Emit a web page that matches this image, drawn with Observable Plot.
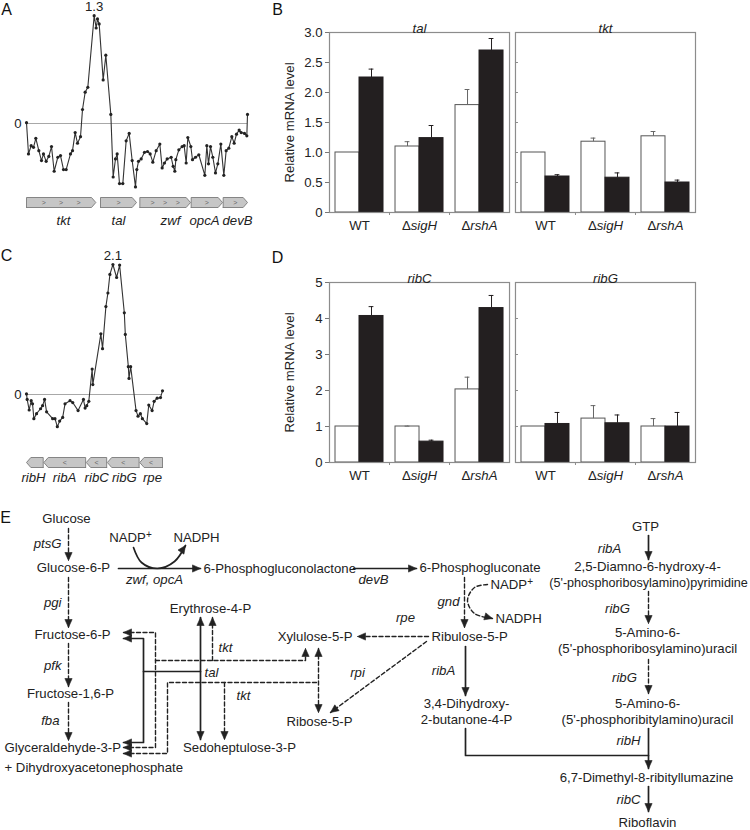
<!DOCTYPE html>
<html><head><meta charset="utf-8">
<script src="https://cdn.jsdelivr.net/npm/d3@7"></script>
<script src="https://cdn.jsdelivr.net/npm/@observablehq/plot@0.6"></script>
<style>
body{margin:0;background:#fff;}
#fig{position:relative;width:750px;height:830px;font-family:"Liberation Sans",Arial,sans-serif;}
#fig > div{position:absolute;left:0;top:0;}
</style></head><body><div id="fig"></div>
<script>
// ---------- Panel A: tiling-array profile (tkt-tal-zwf-opcA-devB) ----------
const profAx = [0,0.06,0.14,0.21,0.28,0.37,0.45,0.51,0.59,0.67,0.75,0.83,0.94,1.02,1.11,1.19,1.32,1.38,1.46,1.53,1.62,1.68,1.76,1.84,2.03,2.09,2.13,2.18,2.30,2.38,2.53,2.60,2.67,2.72,2.79,2.89,2.99,3.08,3.17,3.27,3.31,3.36,3.44,3.54,3.63,3.71,3.79,3.89,4.00,4.07,4.14,4.22,4.34,4.40,4.45,4.48,4.57,4.67,4.73,4.79,4.84,4.93,4.98,5.07,5.17,5.35,5.41,5.46,5.52,5.59,5.67,5.74,5.83,5.92,5.99,6.07,6.16,6.23,6.30,6.38,6.44,6.54,6.61,6.63];
const profAy = [0.01,-0.37,-0.27,-0.29,-0.18,-0.33,-0.45,-0.37,-0.46,-0.40,-0.28,-0.58,-0.41,-0.39,-0.56,-0.56,-0.37,-0.33,-0.11,-0.24,-0.16,0.17,0.38,0.44,1.31,1.16,1.27,1.21,0.53,0.83,0.11,-0.65,-0.43,-0.37,-0.73,-0.73,-0.21,-0.12,-0.45,-0.77,-0.56,-0.46,-0.43,-0.35,-0.34,-0.37,-0.47,-0.33,-0.25,-0.54,-0.48,-0.43,-0.41,-0.52,-0.58,-0.44,-0.32,-0.28,-0.27,-0.48,-0.17,-0.28,-0.44,-0.41,-0.38,-0.63,-0.27,-0.49,-0.28,-0.41,-0.60,-0.49,-0.25,-0.63,-0.33,-0.30,-0.16,-0.24,-0.13,-0.08,-0.11,-0.12,-0.15,0.11];
const genesA = ["tkt","tal","zwf","opcA","devB"];
const genesAStart = [0,2.22,3.40,4.94,5.90];
const genesAEnd = [2.08,3.30,4.92,5.88,6.63];
const genesAChevrons = [3,1,3,1,1];
const genesALabelX = [1.11,2.76,4.32,5.34,6.33];

// ---------- Panel C: tiling-array profile (ribH-ribA-ribC-ribG-rpe) ----------
const profCx = [0,0.02,0.08,0.14,0.18,0.22,0.30,0.42,0.48,0.54,0.60,0.78,0.85,0.92,0.99,1.08,1.15,1.30,1.38,1.54,1.70,1.75,1.80,1.86,1.96,1.98,2.22,2.27,2.37,2.43,2.49,2.58,2.69,2.78,2.92,2.95,3.04,3.06,3.11,3.27,3.33,3.40,3.46,3.59,3.65,3.75,3.81,3.90,4.00,4.06];
const profCy = [0.01,-0.08,-0.25,-0.10,-0.15,-0.39,-0.31,-0.23,-0.18,-0.08,-0.28,-0.39,-0.39,-0.52,-0.43,-0.37,-0.15,-0.10,-0.13,-0.26,-0.08,-0.22,-0.18,-0.11,0.41,0.16,0.98,0.74,1.42,1.64,1.94,2.10,1.89,2.09,1.32,0.97,0.45,0.26,0.45,-0.26,-0.35,-0.31,-0.39,-0.47,-0.17,-0.26,-0.11,-0.06,-0.05,0.06];
const genesC = ["ribH","ribA","ribC","ribG","rpe"];
const genesCStart = [0,0.52,1.79,2.42,3.39];
const genesCEnd = [0.50,1.77,2.40,3.37,4.07];
const genesCChevrons = [0,1,1,1,1];
const genesCLabelX = [0.21,1.14,2.10,2.93,3.77];

// ---------- Panels B and D: relative mRNA levels ----------
const strains = ["WT","\u0394sigH","\u0394rshA"];
const talWhite = [1.00,1.10,1.79], talWhiteErr = [null,1.18,2.05];
const talBlack = [2.25,1.24,2.70], talBlackErr = [2.39,1.45,2.90];
const tktWhite = [1.00,1.18,1.27], tktWhiteErr = [null,1.24,1.35];
const tktBlack = [0.60,0.58,0.50], tktBlackErr = [0.63,0.66,0.54];
const ribCWhite = [1.00,1.00,2.03], ribCWhiteErr = [null,1.01,2.37];
const ribCBlack = [4.07,0.58,4.29], ribCBlackErr = [4.33,0.62,4.64];
const ribGWhite = [1.00,1.22,1.00], ribGWhiteErr = [null,1.58,1.22];
const ribGBlack = [1.07,1.09,1.00], ribGBlackErr = [1.39,1.32,1.39];
const ticksB = [0,0.5,1,1.5,2,2.5,3];
const ticksD = [0,1,2,3,4,5];

// ---------- Panel E: pathway diagram ----------
const letters = ["A","B","C","D","E"];
const letterX = [6,277,6,277,5];
const letterY = [9,9,255,257,517];

const metabolites = [
  ["Glucose",66,518,"middle"],["Glucose-6-P",73,567,"middle"],["NADP\u207A",130,537,"middle"],["NADPH",196,537,"middle"],
  ["6-Phosphogluconolactone",203,568,"start"],["6-Phosphogluconate",419,567,"start"],
  ["NADP\u207A",490,584,"start"],["NADPH",495,618,"start"],
  ["Ribulose-5-P",431,636,"start"],["Xylulose-5-P",352,636,"end"],["Erythrose-4-P",210,608,"middle"],
  ["Fructose-6-P",72,634,"middle"],["Fructose-1,6-P",70,693,"middle"],["Glyceraldehyde-3-P",4,747,"start"],
  ["+ Dihydroxyacetonephosphate",4,767,"start"],["Sedoheptulose-3-P",239,747,"middle"],["Ribose-5-P",319,721,"middle"],
  ["3,4-Dihydroxy-",466,703,"middle"],["2-butanone-4-P",466,719,"middle"],
  ["GTP",645,526,"middle"],["2,5-Diamno-6-hydroxy-4-",647,566,"middle"],["(5'-phosphoribosylamino)pyrimidine",648,582,"middle"],
  ["5-Amino-6-",647,632,"middle"],["(5'-phosphoribosylamino)uracil",647,648,"middle"],
  ["5-Amino-6-",647,703,"middle"],["(5'-phosphoribitylamino)uracil",647,719,"middle"],
  ["6,7-Dimethyl-8-ribityllumazine",646,777,"middle"],["Riboflavin",647,822,"middle"]
];
const enzymes = [
  ["ptsG",61,543,"end"],["pgi",61,602,"end"],["pfk",61,665,"end"],["fba",59,720,"end"],
  ["zwf, opcA",154,579,"middle"],["devB",373,579,"middle"],["gnd",448,601,"middle"],["rpe",405,617,"middle"],
  ["rpi",357,672,"middle"],["ribA",443,670,"middle"],["tkt",225,647,"middle"],["tal",211,672,"middle"],["tkt",243,695,"middle"],
  ["ribA",609,548,"middle"],["ribG",617,608,"middle"],["ribG",624,677,"middle"],["ribH",628,740,"middle"],["ribC",628,799,"middle"]
];
const solidPaths = [
  {pts:[[118,568],[200,568]],head:"end"},
  {pts:[[353,568],[416,568]],head:"end"},
  {pts:[[123,638],[143,638],[143,742],[123,742]],head:"both"},
  {pts:[[143,671],[200,671]],head:"none"},
  {pts:[[200,617],[200,739]],head:"both"},
  {pts:[[465,646],[465,695]],head:"end"},
  {pts:[[648,535],[648,559]],head:"end"},
  {pts:[[465,728],[465,755],[648,755]],head:"none"},
  {pts:[[648,728],[648,768]],head:"end"},
  {pts:[[648,786],[648,811]],head:"end"}
];
const dashedPaths = [
  {pts:[[68,528],[68,560]],head:"end"},
  {pts:[[68,577],[68,627]],head:"end"},
  {pts:[[68,643],[68,686]],head:"end"},
  {pts:[[68,702],[68,740]],head:"end"},
  {pts:[[123,632],[155,632],[155,747],[123,747]],head:"both"},
  {pts:[[155,660],[305,660],[305,648]],head:"end"},
  {pts:[[212,660],[212,617]],head:"end"},
  {pts:[[123,753],[167,753],[167,682],[318,682]],head:"start"},
  {pts:[[224,682],[224,739]],head:"end"},
  {pts:[[318,648],[318,712]],head:"both"},
  {pts:[[464,577],[464,627]],head:"end"},
  {pts:[[428,636],[357,636]],head:"end"},
  {pts:[[426,641],[330,712]],head:"end"},
  {pts:[[648,591],[648,623]],head:"end"},
  {pts:[[648,659],[648,693]],head:"end"}
];
const solidCurves = [ {pts:[[133,547],[141,562],[157,568],[174,561],[185,545]],head:"end"} ];
const dashedCurves = [ {pts:[[487,584],[474,587],[467,600],[474,613],[492,618]],head:"end"} ];

// ---------- helpers ----------
const FONT = "'Liberation Sans', Arial, Helvetica, sans-serif";
const FS = 13.2;
const st = {background:"transparent", fontFamily: FONT, fontSize:FS+"px", color:"#222", overflow:"visible"};
const fig = document.getElementById("fig");
function place(node){ const d=document.createElement("div"); d.appendChild(node); fig.appendChild(d); return node; }

function genePolys(names, starts, ends, dir, tip){
  const out=[];
  names.forEach((g,i)=>{ const s=starts[i], e=ends[i];
    const pts = dir>0 ? [[s,0],[e-tip,0],[e,0.5],[e-tip,1],[s,1],[s,0]]
                      : [[e,0],[s+tip,0],[s,0.5],[s+tip,1],[e,1],[e,0]];
    pts.forEach(([x,y])=>out.push({g,x,y})); });
  return out;
}
function chevrons(names, starts, ends, counts){
  const out=[];
  names.forEach((g,i)=>{ const n=counts[i]; for(let k=1;k<=n;k++) out.push({g, x: starts[i]+(ends[i]-starts[i])*k/(n+1)}); });
  return out;
}
function flat(paths, prefix){ const out=[]; paths.forEach((p,k)=>p.pts.forEach(([x,y])=>out.push({id:prefix+k,x,y}))); return out; }
function heads(paths, prefix){
  const out=[];
  paths.forEach((p,k)=>{ const pts=p.pts;
    const add=(tip,from,id)=>{ const dx=tip[0]-from[0], dy=tip[1]-from[1], L=Math.hypot(dx,dy);
      const ux=dx/L, uy=dy/L, hl=8, hw=3.6, bx=tip[0]-ux*hl, by=tip[1]-uy*hl;
      out.push({id,x:tip[0],y:tip[1]},{id,x:bx-uy*hw,y:by+ux*hw},{id,x:bx+uy*hw,y:by-ux*hw},{id,x:tip[0],y:tip[1]}); };
    if(p.head==="end"||p.head==="both") add(pts[pts.length-1], pts[pts.length-2], prefix+k+"e");
    if(p.head==="start"||p.head==="both") add(pts[0], pts[1], prefix+k+"s");
  });
  return out;
}

// ---------- Panel E (page-sized, identity scales) ----------
const metaRows = metabolites.map(([t,x,y,a])=>({t,x,y,a,fs: t.length>30 ? 12.6 : FS}));
const enzRows = enzymes.map(([t,x,y,a])=>({t,x,y,a}));
const anchors = ["start","middle","end"];
const headRows = heads(solidPaths,"s").concat(heads(dashedPaths,"d"), heads(solidCurves,"c"), heads(dashedCurves,"k"));
const svgE = place(Plot.plot({
  width:750, height:830, margin:0, style: st,
  x:{domain:[0,750], range:[0,750], axis:null},
  y:{domain:[0,830], range:[0,830], axis:null},
  marks:[
    Plot.text(letters,{x:(d,i)=>letterX[i], y:(d,i)=>letterY[i], text:d=>d, fontSize:16, fill:"#111"}),
    Plot.line(flat(solidPaths,"s"),{x:"x",y:"y",z:"id",stroke:"#222",strokeWidth:1.7}),
    Plot.line(flat(dashedPaths,"d"),{x:"x",y:"y",z:"id",stroke:"#222",strokeWidth:1.4,strokeDasharray:"4,2.5"}),
    Plot.line(flat(solidCurves,"c"),{x:"x",y:"y",z:"id",stroke:"#222",strokeWidth:1.7,curve:"catmull-rom"}),
    Plot.line(flat(dashedCurves,"k"),{x:"x",y:"y",z:"id",stroke:"#222",strokeWidth:1.4,strokeDasharray:"4,2.5",curve:"catmull-rom"}),
    Plot.line(headRows,{x:"x",y:"y",z:"id",fill:"#222",stroke:"#222",strokeWidth:0.6}),
    ...anchors.map(a=>Plot.text(metaRows.filter(d=>d.a===a && d.fs===FS),{x:"x",y:"y",text:"t",textAnchor:a,fontSize:FS,fill:"#222"})),
    Plot.text(metaRows.filter(d=>d.fs!==FS),{x:"x",y:"y",text:"t",fontSize:12.6,fill:"#222"}),
    ...anchors.map(a=>Plot.text(enzRows.filter(d=>d.a===a),{x:"x",y:"y",text:"t",textAnchor:a,fontSize:FS,fontStyle:"italic",fill:"#222"}))
  ]
}));
// superscript plus for NADP+
svgE.querySelectorAll("text").forEach(t=>{
  const s=t.textContent;
  if(s.includes("\u207A") && t.children.length===0){
    t.textContent=s.replace("\u207A","");
    const ts=document.createElementNS("http://www.w3.org/2000/svg","tspan");
    ts.setAttribute("font-size","10"); ts.setAttribute("dy","-4"); ts.textContent="+"; t.appendChild(ts);
  }
});

// ---------- Panels A and C: profiles ----------
function profilePlot(xs, ys, xr, yr, height){
  const rows = xs.map((x,i)=>({x, y: ys[i]}));
  const xmax = xs[xs.length-1];
  return Plot.plot({
    width:260, height, marginLeft:26, marginTop:0, marginRight:0, marginBottom:0, style: st,
    x:{domain:[0,xmax], range:xr, axis:null},
    y:{domain:[0,yr[2]], range:[yr[0],yr[1]]},
    marks:[
      Plot.axisY({ticks:[0], tickFormat:()=>"0", tickSize:0, tickPadding:5, fontSize:FS, label:null}),
      Plot.ruleY([0],{x1:0, x2:xmax, stroke:"#a8a8a8", strokeWidth:1.2}),
      Plot.line(rows,{x:"x",y:"y",stroke:"#333",strokeWidth:1.1}),
      Plot.dot(rows,{x:"x",y:"y",r:1.6,fill:"#222"}),
      Plot.text(rows, Plot.selectMaxY({x:"x",y:"y",text:d=>d3.format(".1f")(d.y),dy:-9,fontSize:FS}))
    ]
  });
}
function genePlot(names, starts, ends, counts, labelX, dir, xr, yr, labelDy, height){
  const xmax = ends[ends.length-1];
  const chev = chevrons(names, starts, ends, counts);
  const labs = names.map((g,i)=>({g, x:labelX[i]}));
  return Plot.plot({
    width:260, height, margin:0, style: st,
    x:{domain:[0,xmax], range:xr, axis:null},
    y:{domain:[0,1], range:yr, axis:null},
    marks:[
      Plot.line(genePolys(names, starts, ends, dir, 0.13),{x:"x",y:"y",z:"g",fill:"#c6c6c6",stroke:"#7a7a7a",strokeWidth:0.9}),
      Plot.text(chev,{x:"x",y:0.5,text:()=> dir>0 ? ">" : "<",fontSize:7,fill:"#666"}),
      Plot.text(labs,{x:"x",y:0,dy:labelDy,text:"g",fontStyle:"italic",fontSize:FS,fill:"#222"})
    ]
  });
}
place(profilePlot(profAx, profAy, [26,247], [123,16,1.3], 240));
place(genePlot(genesA, genesAStart, genesAEnd, genesAChevrons, genesALabelX, 1, [26,247], [207,197], 13, 240));
place(profilePlot(profCx, profCy, [26,162], [394,264,2.1], 490));
place(genePlot(genesC, genesCStart, genesCEnd, genesCChevrons, genesCLabelX, -1, [26,162], [467,457], 10, 490));

// ---------- Panels B and D: bar charts ----------
function barRows(gene, white, whiteErr, black, blackErr){
  const rows=[];
  strains.forEach((s,i)=>{
    rows.push({gene, i, cond:"control", v:white[i], err:whiteErr[i]});
    rows.push({gene, i, cond:"stress", v:black[i], err:blackErr[i]});
  });
  return rows;
}
const bx1 = d => d.i + 0.1 + (d.cond==="stress" ? 0.4 : 0);
const bcx = d => bx1(d) + 0.2;
function barChart(genes, rows, ymax, yticks, fmt, top, bottom){
  const ctl = rows.filter(d=>d.cond==="control"), str = rows.filter(d=>d.cond==="stress");
  const ectl = ctl.filter(d=>d.err!=null), estr = str.filter(d=>d.err!=null);
  const inner = yticks.slice(1,-1).map(t=>({gene:genes[1], t}));
  const svg = Plot.plot({
    width:750, height:bottom+28, marginLeft:329, marginRight:55, marginTop:top, marginBottom:28, style: st,
    fx:{domain:genes, paddingInner:0.032, paddingOuter:0, round:false, axis:null},
    x:{domain:[0,3]},
    y:{domain:[0,ymax]},
    marks:[
      Plot.rect(ctl,{fx:"gene", x1:bx1, x2:d=>bx1(d)+0.4, y1:0, y2:"v", fill:"white", stroke:"#555", strokeWidth:1}),
      Plot.rect(str,{fx:"gene", x1:bx1, x2:d=>bx1(d)+0.4, y1:0, y2:"v", fill:"#231f20", stroke:"#231f20", strokeWidth:1}),
      Plot.ruleX(ectl,{fx:"gene", x:bcx, y1:"v", y2:"err", stroke:"#666", strokeWidth:1}),
      Plot.ruleY(ectl,{fx:"gene", y:"err", x1:d=>bcx(d)-0.04, x2:d=>bcx(d)+0.04, stroke:"#666", strokeWidth:1}),
      Plot.ruleX(estr,{fx:"gene", x:bcx, y1:"v", y2:"err", stroke:"#231f20", strokeWidth:1}),
      Plot.ruleY(estr,{fx:"gene", y:"err", x1:d=>bcx(d)-0.04, x2:d=>bcx(d)+0.04, stroke:"#231f20", strokeWidth:1}),
      Plot.frame({stroke:"#8c8c8c", strokeWidth:1.2}),
      Plot.ruleY(inner,{fx:"gene", y:"t", x1:0, x2:0.05, stroke:"#8c8c8c"}),
      Plot.axisY({ticks:yticks, tickFormat:fmt, tickSize:4, tickPadding:3, fontSize:FS, label:null, stroke:"#777"}),
      Plot.axisX({ticks:[0.5,1.5,2.5], tickFormat:d=>strains[Math.floor(d)], tickSize:0, tickPadding:8, fontSize:FS, label:null}),
      Plot.axisX({ticks:[1,2], tickFormat:()=>"", tickSize:3, stroke:"#8c8c8c", label:null}),
      Plot.text(genes,{fx:d=>d, text:d=>d, frameAnchor:"top", dy:-9, fontStyle:"italic", fontSize:FS}),
      Plot.text([genes[0]],{fx:d=>d, text:()=>"Relative mRNA level", frameAnchor:"left", textAnchor:"middle", dx:-40, rotate:-90, fontSize:FS})
    ]
  });
  svg.querySelectorAll("text").forEach(t=>{
    const s=t.textContent;
    if(s.startsWith("\u0394") && t.children.length===0){
      t.textContent="\u0394";
      const ts=document.createElementNS("http://www.w3.org/2000/svg","tspan");
      ts.setAttribute("font-style","italic"); ts.textContent=s.slice(1); t.appendChild(ts);
    }
  });
  return svg;
}
const rowsB = barRows("tal", talWhite, talWhiteErr, talBlack, talBlackErr).concat(barRows("tkt", tktWhite, tktWhiteErr, tktBlack, tktBlackErr));
const rowsD = barRows("ribC", ribCWhite, ribCWhiteErr, ribCBlack, ribCBlackErr).concat(barRows("ribG", ribGWhite, ribGWhiteErr, ribGBlack, ribGBlackErr));
place(barChart(["tal","tkt"], rowsB, 3, ticksB, d=>d===0?"0":d.toFixed(1), 32, 212));
place(barChart(["ribC","ribG"], rowsD, 5, ticksD, d=>String(d), 282, 462));
</script></body></html>
